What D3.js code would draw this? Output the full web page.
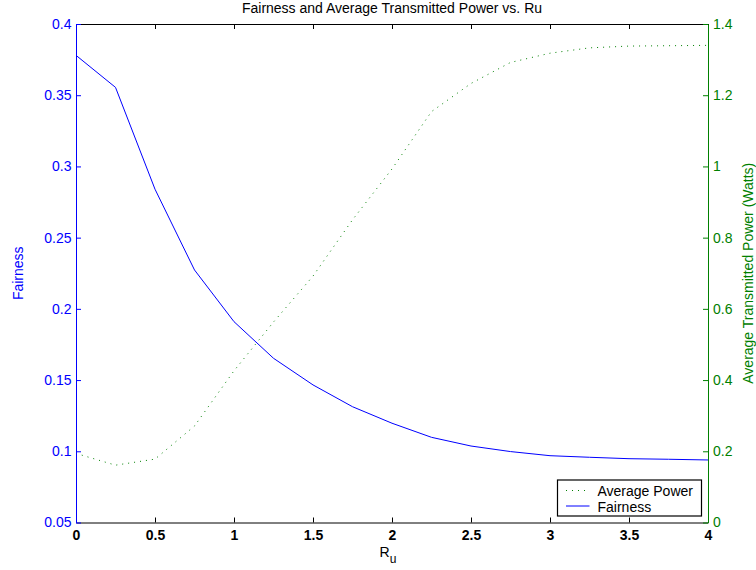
<!DOCTYPE html>
<html>
<head>
<meta charset="utf-8">
<script src="https://cdn.jsdelivr.net/npm/d3@7"></script>
<style>
  html, body { margin: 0; padding: 0; background: #fff; }
  svg { display: block; }
  text { font-family: "Liberation Sans", Arial, Helvetica, sans-serif; font-size: 14px; }
</style>
</head>
<body>
<svg id="chart" width="756" height="570"></svg>
<script>
// ---- data ----
const ruValues = [0, 0.25, 0.5, 0.75, 1, 1.25, 1.5, 1.75, 2, 2.25, 2.5, 2.75, 3, 3.25, 3.5, 3.75, 4];
const fairness = [0.378, 0.3555, 0.284, 0.2273, 0.191, 0.1653, 0.1466, 0.1313, 0.1197, 0.1098, 0.1037, 0.0998, 0.0969, 0.0958, 0.0948, 0.0944, 0.0939];
const avgPower = [0.194, 0.161, 0.178, 0.271, 0.426, 0.563, 0.692, 0.850, 0.993, 1.154, 1.233, 1.292, 1.318, 1.333, 1.338, 1.339, 1.340];
const xTicks = [0, 0.5, 1, 1.5, 2, 2.5, 3, 3.5, 4];
const leftTicks = [0.05, 0.1, 0.15, 0.2, 0.25, 0.3, 0.35, 0.4];
const rightTicks = [0, 0.2, 0.4, 0.6, 0.8, 1, 1.2, 1.4];
const legendLabels = ["Average Power", "Fairness"];
const titleText = "Fairness and Average Transmitted Power vs. Ru";

// ---- layout ----
const W = 756, H = 570;
const plot = { left: 76, right: 708, top: 24, bottom: 522.5 };
const BLUE = "rgb(0,0,255)", GREEN = "rgb(0,128,0)";
const FONT = "'Liberation Sans', Arial, sans-serif";

const svg = d3.select("#chart");

const x = d3.scaleLinear().domain([0, 4]).range([plot.left, plot.right]);
const yL = d3.scaleLinear().domain([0.05, 0.4]).range([plot.bottom, plot.top]);
const yR = d3.scaleLinear().domain([0, 1.4]).range([plot.bottom, plot.top]);

const fmt = d => String(+d.toFixed(2));

// lines
const lineL = d3.line().x((d, i) => x(ruValues[i])).y(d => yL(d));
const lineR = d3.line().x((d, i) => x(ruValues[i])).y(d => yR(d));

svg.append("path").datum(avgPower)
  .attr("d", lineR).attr("fill", "none")
  .attr("stroke", GREEN).attr("stroke-width", 1)
  .attr("stroke-dasharray", "1,5");

svg.append("path").datum(fairness)
  .attr("d", lineL).attr("fill", "none")
  .attr("stroke", BLUE).attr("stroke-width", 1);

// bottom axis
const gB = svg.append("g").attr("transform", `translate(0,${plot.bottom})`)
  .call(d3.axisBottom(x).tickValues(xTicks).tickFormat(fmt).tickSizeInner(-5).tickSizeOuter(0).tickPadding(7.5));
gB.select(".domain").attr("stroke", "#000");
gB.selectAll(".tick line").attr("stroke", "#000");
gB.selectAll(".tick text").attr("fill", "#000").style("font-size", "14px")
  .style("font-weight", "bold").style("font-family", FONT);

// top axis
const gT = svg.append("g").attr("transform", `translate(0,${plot.top})`)
  .call(d3.axisTop(x).tickValues(xTicks).tickFormat("").tickSizeInner(-5).tickSizeOuter(0));
gT.select(".domain").attr("stroke", "#000");
gT.selectAll(".tick line").attr("stroke", "#000");

// left axis
const gL = svg.append("g").attr("transform", `translate(${plot.left},0)`)
  .call(d3.axisLeft(yL).tickValues(leftTicks).tickFormat(fmt).tickSizeInner(-5).tickSizeOuter(0).tickPadding(4.5));
gL.select(".domain").attr("stroke", BLUE);
gL.selectAll(".tick line").attr("stroke", BLUE);
gL.selectAll(".tick text").attr("fill", BLUE).style("font-size", "14px").style("font-family", FONT);

// right axis
const gR = svg.append("g").attr("transform", `translate(${plot.right},0)`)
  .call(d3.axisRight(yR).tickValues(rightTicks).tickFormat(fmt).tickSizeInner(-5).tickSizeOuter(0).tickPadding(5));
gR.select(".domain").attr("stroke", GREEN);
gR.selectAll(".tick line").attr("stroke", GREEN);
gR.selectAll(".tick text").attr("fill", GREEN).style("font-size", "14px").style("font-family", FONT);

// title
svg.append("text").attr("x", (plot.left + plot.right) / 2).attr("y", 13)
  .attr("text-anchor", "middle").attr("fill", "#000").text(titleText);

// x label with subscript
const xl = svg.append("text").attr("x", (plot.left + plot.right) / 2 - 4).attr("y", 557)
  .attr("text-anchor", "middle").attr("fill", "#000");
xl.append("tspan").text("R");
xl.append("tspan").attr("dy", 6).style("font-size", "12px").text("u");

// y labels
svg.append("text")
  .attr("transform", `translate(23,${(plot.top + plot.bottom) / 2}) rotate(-90)`)
  .attr("text-anchor", "middle").attr("fill", BLUE).text("Fairness");
svg.append("text")
  .attr("transform", `translate(753,${(plot.top + plot.bottom) / 2}) rotate(-90)`)
  .attr("text-anchor", "middle").attr("fill", GREEN).text("Average Transmitted Power (Watts)");

// legend
const lg = svg.append("g").attr("transform", `translate(${plot.right - 150.5},${plot.bottom - 42.5})`);
lg.append("rect").attr("x", 0).attr("y", 0).attr("width", 144).attr("height", 36)
  .attr("fill", "#fff").attr("stroke", "#000").attr("stroke-width", 1.2);
const legStyles = [{ color: GREEN, dash: "1,5" }, { color: BLUE, dash: null }];
legendLabels.forEach((lab, i) => {
  const cy = 10.5 + i * 15.5;
  lg.append("line").attr("x1", 8.5).attr("x2", i === 0 ? 29.5 : 32).attr("y1", cy).attr("y2", cy)
    .attr("stroke", legStyles[i].color).attr("stroke-width", 1)
    .attr("stroke-dasharray", legStyles[i].dash);
  lg.append("text").attr("x", 40).attr("y", cy + 5 + i * 0.7).attr("fill", "#000").text(lab);
});
</script>
</body>
</html>
